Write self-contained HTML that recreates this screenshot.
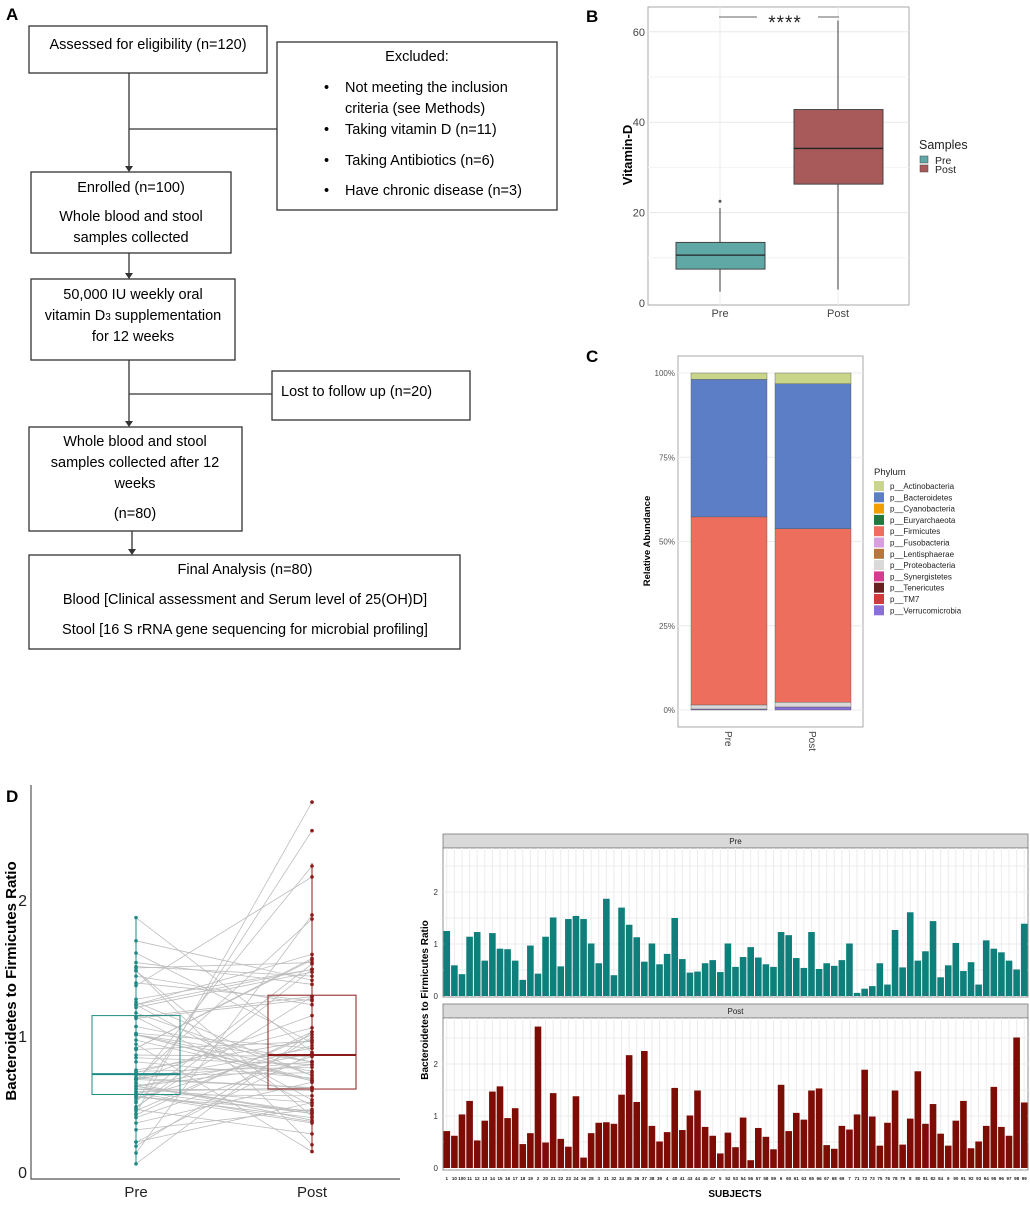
<!DOCTYPE html>
<html><head><meta charset="utf-8"><style>
body{margin:0;background:#fff;}
svg text{font-family:"Liberation Sans",sans-serif;}
</style></head><body>
<svg id="fig" width="1030" height="1200" viewBox="0 0 1030 1200" xmlns="http://www.w3.org/2000/svg">
<rect width="1030" height="1200" fill="#fff"/>
<g font-weight="bold" font-size="17" fill="#000">
<text x="6" y="20">A</text>
<text x="586" y="22">B</text>
<text x="586" y="362">C</text>
<text x="6" y="802">D</text>
</g>
<g id="flow" font-size="14.5" fill="#000" stroke-width="1.3">
<g fill="none" stroke="#333">
<rect x="29" y="26" width="238" height="47"/>
<rect x="277" y="42" width="280" height="168"/>
<rect x="31" y="172" width="200" height="81"/>
<rect x="31" y="279" width="204" height="81"/>
<rect x="272" y="371" width="198" height="49"/>
<rect x="29" y="427" width="213" height="104"/>
<rect x="29" y="555" width="431" height="94"/>
<path d="M129 73V168M129 129H277M129 253V275M129 360V422M129 394H272M132 531V551"/>
</g>
<g fill="#333">
<path d="M125 166L133 166L129 172Z"/><path d="M125 273L133 273L129 279Z"/><path d="M125 421L133 421L129 427Z"/><path d="M128 549L136 549L132 555Z"/>
</g>
<g text-anchor="middle">
<text x="148" y="49">Assessed for eligibility (n=120)</text>
<text x="417" y="61">Excluded:</text>
<text x="131" y="192">Enrolled (n=100)</text>
<text x="131" y="221">Whole blood and stool</text>
<text x="131" y="242">samples collected</text>
<text x="133" y="299">50,000 IU weekly oral</text>
<text x="133" y="320">vitamin D<tspan font-size="10">3</tspan> supplementation</text>
<text x="133" y="341">for 12 weeks</text>
<text x="135" y="446">Whole blood and stool</text>
<text x="135" y="467">samples collected after 12</text>
<text x="135" y="488">weeks</text>
<text x="135" y="518">(n=80)</text>
<text x="245" y="574">Final Analysis (n=80)</text>
<text x="245" y="604">Blood [Clinical assessment and Serum level of 25(OH)D]</text>
<text x="245" y="634">Stool [16 S rRNA gene sequencing for microbial profiling]</text>
</g>
<text x="281" y="396">Lost to follow up (n=20)</text>
<g>
<text x="324" y="92">•</text><text x="345" y="92">Not meeting the inclusion</text>
<text x="345" y="113">criteria (see Methods)</text>
<text x="324" y="134">•</text><text x="345" y="134">Taking vitamin D (n=11)</text>
<text x="324" y="165">•</text><text x="345" y="165">Taking Antibiotics (n=6)</text>
<text x="324" y="195">•</text><text x="345" y="195">Have chronic disease (n=3)</text>
</g>
</g>
<g id="pB"></g>
<g id="pC"></g>
<g id="pD1"></g>
<g id="pD2"></g>
</svg>
<script>
// ---- data ----
const subjects = ["1","10","100","11","12","13","14","15","16","17","18","19","2","20","21","22","23","24","26","28","3","31","32","34","35","36","37","38","39","4","40","41","43","44","45","47","5","52","53","54","56","57","58","59","6","60","61","63","65","66","67","68","69","7","71","72","73","75","76","78","79","8","80","81","82","84","9","90","91","92","93","94","95","96","97","98","99"];
const preRatio = [1.25,0.59,0.42,1.14,1.23,0.68,1.21,0.91,0.90,0.68,0.31,0.97,0.43,1.14,1.51,0.57,1.48,1.54,1.48,1.01,0.63,1.87,0.40,1.70,1.37,1.13,0.66,1.01,0.61,0.81,1.50,0.71,0.45,0.47,0.63,0.69,0.46,1.01,0.56,0.75,0.94,0.74,0.61,0.56,1.23,1.17,0.73,0.54,1.23,0.52,0.63,0.58,0.69,1.01,0.06,0.14,0.19,0.63,0.22,1.27,0.55,1.61,0.68,0.86,1.44,0.36,0.59,1.02,0.48,0.65,0.22,1.07,0.91,0.84,0.68,0.51,1.39];
const postRatio = [0.71,0.62,1.03,1.29,0.53,0.91,1.47,1.57,0.96,1.15,0.46,0.67,2.72,0.49,1.44,0.56,0.41,1.38,0.20,0.67,0.87,0.88,0.85,1.41,2.17,1.27,2.25,0.81,0.51,0.69,1.54,0.73,1.01,1.49,0.79,0.62,0.28,0.68,0.40,0.97,0.15,0.77,0.60,0.36,1.60,0.71,1.06,0.93,1.49,1.53,0.44,0.37,0.81,0.74,1.03,1.89,0.99,0.43,0.87,1.49,0.45,0.95,1.86,0.85,1.23,0.66,0.43,0.91,1.29,0.38,0.51,0.81,1.56,0.79,0.62,2.51,1.26];
const ratioBoxPre = [0.07,0.57,0.72,1.15,1.87];
const ratioBoxPost = [0.14,0.61,0.86,1.30,2.27];
const vitGroups = ["Pre","Post"];
const vitBoxPre = [2.5,7.5,10.6,13.4,21.0];
const vitBoxPost = [3.0,26.3,34.2,42.8,62.5];
const vitOutliers = [22.5];
const vitTicks = [0,20,40,60];
const phyla = ["p__Actinobacteria","p__Bacteroidetes","p__Cyanobacteria","p__Euryarchaeota","p__Firmicutes","p__Fusobacteria","p__Lentisphaerae","p__Proteobacteria","p__Synergistetes","p__Tenericutes","p__TM7","p__Verrucomicrobia"];
const phylaColors = ["#c9d68a","#5b7ec6","#f0a000","#1e7a3e","#ee6e5e","#d79ee0","#b8763a","#d9d9d9","#d63b8f","#6b1f1f","#d2393b","#8a6fd6"];
const abundPre = [1.9,40.8,0,0,55.8,0,0,1.2,0,0,0,0.3];
const abundPost = [3.2,43.0,0,0,51.5,0,0,1.4,0,0,0,0.9];
const pctTicks = [0,25,50,75,100];
const ratioTicks = [0,1,2];

const NS="http://www.w3.org/2000/svg";
function mk(parent,tag,attrs,txt){const e=document.createElementNS(NS,tag);for(const k in attrs)e.setAttribute(k,attrs[k]);if(txt!==undefined)e.textContent=txt;parent.appendChild(e);return e;}

// ---- Panel B ----
(function(){
const g=document.getElementById('pB');
const L=648,R=909,T=7,B=305;
const y=v=>303-v*4.52;
const xc=[720,838];
let e;
e=mk(g,'rect',{x:L,y:T,width:R-L,height:B-T,fill:'#fff',stroke:'#aaa'});

for(let v=10;v<=60;v+=10){e=mk(g,'line',{x1:L,x2:R,y1:y(v),y2:y(v),stroke:v%20?'#f3f3f3':'#e8e8e8'});}
xc.forEach(x=>{e=mk(g,'line',{x1:x,x2:x,y1:T,y2:B,stroke:'#ebebeb'});});
vitTicks.forEach(v=>{e=mk(g,'text',{x:645,y:y(v)+4,'text-anchor':'end','font-size':'11',fill:'#444'},String(v));});
const boxes=[vitBoxPre,vitBoxPost],cols=['#5fa8a6','#a85a5a'];
boxes.forEach((b,i)=>{const x=xc[i];
e=mk(g,'line',{x1:x,x2:x,y1:y(b[0]),y2:y(b[4]),stroke:'#666','stroke-width':1.3});
e=mk(g,'rect',{x:x-44,y:y(b[3]),width:89,height:y(b[1])-y(b[3]),fill:cols[i],stroke:'#444'});
e=mk(g,'line',{x1:x-44,x2:x+45,y1:y(b[2]),y2:y(b[2]),stroke:'#222','stroke-width':1.3});
e=mk(g,'text',{x:x,y:317,'text-anchor':'middle','font-size':'11',fill:'#444'},vitGroups[i]);
});
vitOutliers.forEach(v=>{e=mk(g,'circle',{cx:xc[0],cy:y(v),r:1.5,fill:'#555'});});
e=mk(g,'path',{d:'M719 17H757M818 17H839',stroke:'#666',fill:'none'});
e=mk(g,'text',{x:785,y:29,'text-anchor':'middle','font-size':'19',fill:'#222','letter-spacing':'1'},'****');
e=mk(g,'text',{x:0,y:0,transform:'translate(632 155) rotate(-90)','text-anchor':'middle','font-size':'13','font-weight':'bold'},'Vitamin-D');
e=mk(g,'text',{x:919,y:149,'font-size':'12.5',fill:'#222'},'Samples');
vitGroups.forEach((n,i)=>{
e=mk(g,'rect',{x:920,y:156+i*9,width:8,height:7,fill:cols[i],stroke:'#444','stroke-width':0.5});
e=mk(g,'text',{x:935,y:164+i*9,'font-size':'10.5',fill:'#222'},n);
});
})();

// ---- Panel C ----
(function(){
const g=document.getElementById('pC');
const L=678,R=863,T=356,B=727;
const y=v=>710-v*3.37;
let e;
e=mk(g,'rect',{x:L,y:T,width:R-L,height:B-T,fill:'#fff',stroke:'#aaa'});
pctTicks.forEach(v=>{e=mk(g,'line',{x1:L,x2:R,y1:y(v),y2:y(v),stroke:'#ececec'});
e=mk(g,'text',{x:675,y:y(v)+3,'text-anchor':'end','font-size':'8',fill:'#555'},v+'%');});
const bars=[abundPre,abundPost],xl=[691,775],names=['Pre','Post'];
bars.forEach((arr,bi)=>{
 const ord=arr.map((v,i)=>i).reverse();let cum=0;
 ord.forEach(i=>{const v=arr[i];if(v<=0)return;
  e=mk(g,'rect',{x:xl[bi],y:y(cum+v),width:76,height:v*3.37,fill:phylaColors[i],stroke:'#555','stroke-width':0.4});
  cum+=v;});
 e=mk(g,'text',{x:0,y:0,transform:'translate('+(xl[bi]+34)+' 731) rotate(90)','font-size':'10',fill:'#444'},names[bi]);
});
e=mk(g,'text',{x:0,y:0,transform:'translate(650 541) rotate(-90)','text-anchor':'middle','font-size':'9.5','font-weight':'bold'},'Relative Abundance');
e=mk(g,'text',{x:874,y:475,'font-size':'9.5',fill:'#222'},'Phylum');
phyla.forEach((p,i)=>{
 e=mk(g,'rect',{x:874,y:481+i*11.3,width:10,height:10,fill:phylaColors[i]});
 e=mk(g,'text',{x:890,y:489+i*11.3,'font-size':'8',fill:'#222'},p);
});
})();

// ---- Panel D left ----
(function(){
const g=document.getElementById('pD1');
const y=v=>1172-v*136;const xp=136,xq=312;let e;
e=mk(g,'path',{d:'M31 785V1179H400',stroke:'#555',fill:'none','stroke-width':1.2});
ratioTicks.forEach(v=>{e=mk(g,'text',{x:27,y:y(v)+6,'text-anchor':'end','font-size':'16',fill:'#222'},String(v));});
[['Pre',xp],['Post',xq]].forEach(a=>{e=mk(g,'text',{x:a[1],y:1197,'text-anchor':'middle','font-size':'15',fill:'#222'},a[0]);});
e=mk(g,'text',{x:0,y:0,transform:'translate(16 981) rotate(-90)','text-anchor':'middle','font-size':'15','font-weight':'bold'},'Bacteroidetes to Firmicutes Ratio');
preRatio.forEach((v,i)=>{e=mk(g,'line',{x1:xp,x2:xq,y1:y(v),y2:y(postRatio[i]),stroke:'#bdbdbd','stroke-width':0.8});});
[[ratioBoxPre,xp,'#1f8a85'],[ratioBoxPost,xq,'#8b1a1a']].forEach((a,i)=>{const b=a[0],x=a[1],c=a[2];
e=mk(g,'line',{x1:x,x2:x,y1:y(b[0]),y2:y(b[4]),stroke:c,'stroke-width':1});
e=mk(g,'rect',{x:x-44,y:y(b[3]),width:88,height:y(b[1])-y(b[3]),fill:'none',stroke:c,'stroke-width':1});
e=mk(g,'line',{x1:x-44,x2:x+44,y1:y(b[2]),y2:y(b[2]),stroke:c,'stroke-width':2});});
preRatio.forEach(v=>{e=mk(g,'circle',{cx:xp,cy:y(v),r:1.8,fill:'#1f8a85'});});
postRatio.forEach(v=>{e=mk(g,'circle',{cx:xq,cy:y(v),r:1.8,fill:'#8b1a1a'});});
})();

// ---- Panel D right ----
(function(){
const g=document.getElementById('pD2');
const L=443,R=1028,n=subjects.length,bw=(R-L)/n;let e;
const panels=[{name:'Pre',data:preRatio,st:834,top:848,bot:997,base:996,col:'#0e7f7b'},{name:'Post',data:postRatio,st:1004,top:1018,bot:1170,base:1168,col:'#7c0c04'}];
panels.forEach(p=>{
 const y=v=>p.base-v*52;
 e=mk(g,'rect',{x:L,y:p.st,width:R-L,height:p.top-p.st,fill:'#d9d9d9',stroke:'#777','stroke-width':0.8});
 e=mk(g,'text',{x:(L+R)/2,y:p.st+10,'text-anchor':'middle','font-size':'8',fill:'#222'},p.name);
 e=mk(g,'rect',{x:L,y:p.top,width:R-L,height:p.bot-p.top,fill:'#fff',stroke:'#777','stroke-width':0.8});
 for(let v=0.5;v<=2.5;v+=0.5){e=mk(g,'line',{x1:L,x2:R,y1:y(v),y2:y(v),stroke:'#ececec'});}
 subjects.forEach((s,i)=>{e=mk(g,'line',{x1:L+(i+.5)*bw,x2:L+(i+.5)*bw,y1:p.top,y2:p.bot,stroke:'#ececec'});});
 p.data.forEach((v,i)=>{e=mk(g,'rect',{x:L+i*bw+0.5,y:y(v),width:bw-1,height:v*52,fill:p.col});});
 ratioTicks.forEach(v=>{e=mk(g,'text',{x:438,y:y(v)+3,'text-anchor':'end','font-size':'8',fill:'#333'},String(v));});
});
subjects.forEach((s,i)=>{e=mk(g,'text',{x:L+(i+.5)*bw,y:1180,'text-anchor':'middle','font-size':'4.5','font-weight':'bold',fill:'#222'},s);});
e=mk(g,'text',{x:735,y:1197,'text-anchor':'middle','font-size':'10','font-weight':'bold'},'SUBJECTS');
e=mk(g,'text',{x:0,y:0,transform:'translate(428 1000) rotate(-90)','text-anchor':'middle','font-size':'10','font-weight':'bold'},'Bacteroidetes to Firmicutes Ratio');
})();
</script>
</body></html>
